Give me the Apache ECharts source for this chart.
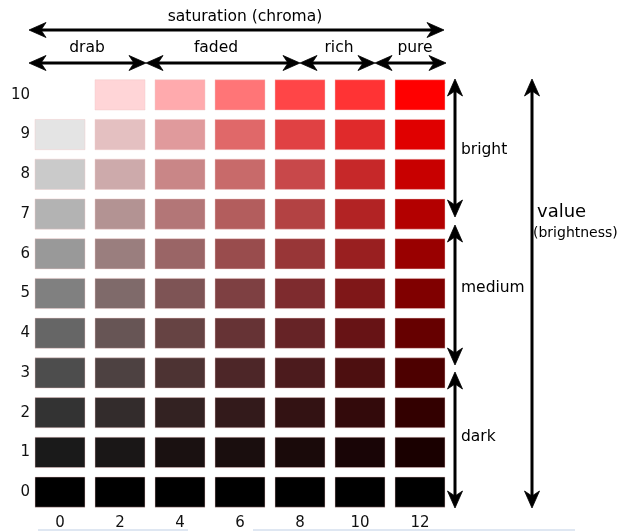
<!DOCTYPE html>
<html>
<head>
<meta charset="utf-8">
<script src="https://cdn.jsdelivr.net/npm/echarts@6/dist/echarts.min.js"></script>
<style>
html,body{margin:0;padding:0;background:#fff;}
#chart{width:632px;height:531px;}
</style>
</head>
<body>
<div id="chart"></div>
<script>
// Chroma (saturation) categories along x, Munsell value (brightness) along y
var chromaLabels = ['0', '2', '4', '6', '8', '10', '12'];
var valueLabels = ['0', '1', '2', '3', '4', '5', '6', '7', '8', '9', '10'];

// Colours of each cell, one array per value row, ordered by chroma (null = no swatch)
var value10 = [null, '#ffd5d7', '#ffaaad', '#ff7577', '#ff4547', '#ff3334', '#ff0000'];
var value9  = ['#e4e4e4', '#e4c0c1', '#e09a9c', '#e06869', '#e04143', '#e02a2b', '#e00000'];
var value8  = ['#cacaca', '#cdaaab', '#c98687', '#c86a6a', '#c8484a', '#c62829', '#c80000'];
var value7  = ['#b3b3b3', '#b39393', '#b37677', '#b35d5d', '#b34243', '#b22324', '#b30000'];
var value6  = ['#999999', '#9a7e7e', '#9a6566', '#994c4d', '#983637', '#991f20', '#990000'];
var value5  = ['#808080', '#7f6a6a', '#7e5455', '#7e4042', '#7e2b2e', '#7f1718', '#800000'];
var value4  = ['#666666', '#675555', '#664343', '#663335', '#662326', '#671315', '#660000'];
var value3  = ['#4d4d4d', '#4d4141', '#4d3333', '#4d2628', '#4c1b1d', '#4d0f10', '#4d0000'];
var value2  = ['#333333', '#332c2c', '#332222', '#331a1b', '#331213', '#330a0b', '#330000'];
var value1  = ['#1a1a1a', '#1a1717', '#1a1111', '#1a0e0e', '#1a0a0a', '#190506', '#1a0000'];
var value0  = ['#000000', '#000000', '#000000', '#000000', '#000000', '#000000', '#000000'];

var rows = [value0, value1, value2, value3, value4, value5, value6, value7, value8, value9, value10];

var cells = [];
rows.forEach(function (row, vi) {
  row.forEach(function (col, ci) {
    if (col) cells.push([ci, vi, col]);
  });
});

var FONT = 'DejaVu Sans';
var INK = '#000';

function arrowHead(tx, ty, dir) {
  // dir: 'l','r','u','d' - direction the arrow points
  var L = 17, W = 7.5, B = 12;
  var pts;
  if (dir === 'l') pts = [[tx, ty], [tx + L, ty - W], [tx + B, ty], [tx + L, ty + W]];
  if (dir === 'r') pts = [[tx, ty], [tx - L, ty - W], [tx - B, ty], [tx - L, ty + W]];
  if (dir === 'u') pts = [[tx, ty], [tx - W, ty + L], [tx, ty + B], [tx + W, ty + L]];
  if (dir === 'd') pts = [[tx, ty], [tx - W, ty - L], [tx, ty - B], [tx + W, ty - L]];
  return { type: 'polygon', shape: { points: pts }, style: { fill: INK, stroke: INK, lineWidth: 0.8 }, z: 100 };
}
function hArrow(x1, x2, y) {
  return [
    { type: 'line', shape: { x1: x1 + 8, y1: y, x2: x2 - 8, y2: y }, style: { stroke: INK, lineWidth: 3 }, z: 100 },
    arrowHead(x1, y, 'l'), arrowHead(x2, y, 'r')
  ];
}
function vArrow(x, y1, y2) {
  return [
    { type: 'line', shape: { x1: x, y1: y1 + 8, x2: x, y2: y2 - 8 }, style: { stroke: INK, lineWidth: 3 }, z: 100 },
    arrowHead(x, y1, 'u'), arrowHead(x, y2, 'd')
  ];
}
function label(text, x, y, size, align) {
  return {
    type: 'text', z: 100,
    style: { text: text, x: x, y: y, fill: '#000', fontSize: size, fontFamily: FONT,
             textAlign: align || 'center', textVerticalAlign: 'middle' }
  };
}

var graphics = [].concat(
  hArrow(29, 444, 30),
  hArrow(29, 146, 63), hArrow(146, 300, 63), hArrow(300, 375, 63), hArrow(375, 446, 63),
  vArrow(455, 79, 217), vArrow(455, 225, 365), vArrow(455, 372, 508),
  vArrow(532, 79, 508),
  [
    label('saturation (chroma)', 245, 17, 15.5),
    label('drab', 87, 48, 15.5),
    label('faded', 216, 48, 15.5),
    label('rich', 339, 48, 15.5),
    label('pure', 415, 48, 15.5),
    label('bright', 461, 150, 15.5, 'left'),
    label('medium', 461, 288, 15.5, 'left'),
    label('dark', 461, 437, 15.5, 'left'),
    label('value', 537, 212, 18, 'left'),
    label('(brightness)', 533, 233, 14, 'left'),
    { type: 'line', shape: { x1: 38, y1: 530, x2: 188, y2: 530 }, style: { stroke: '#dfe7f2', lineWidth: 2 } },
    { type: 'line', shape: { x1: 253, y1: 530, x2: 575, y2: 530 }, style: { stroke: '#dfe7f2', lineWidth: 2 } }
  ]
);

var chart = echarts.init(document.getElementById('chart'), null, { renderer: 'canvas' });
chart.setOption({
  animation: false,
  backgroundColor: '#fff',
  grid: { left: 30, top: 75, width: 420, bottom: 18 },
  xAxis: {
    type: 'category', data: chromaLabels,
    axisLine: { show: false }, axisTick: { show: false }, splitLine: { show: false },
    axisLabel: { color: '#111', fontSize: 15, fontFamily: FONT, margin: 4 }
  },
  yAxis: {
    type: 'category', data: valueLabels,
    axisLine: { show: false }, axisTick: { show: false }, splitLine: { show: false },
    axisLabel: { color: '#111', fontSize: 15, fontFamily: FONT, margin: 0 }
  },
  series: [{
    type: 'custom',
    data: cells,
    encode: { x: 0, y: 1 },
    renderItem: function (params, api) {
      var c = api.coord([api.value(0), api.value(1)]);
      var s = api.size([1, 1]);
      var w = s[0] - 10, h = s[1] - 9.5;
      return {
        type: 'rect',
        shape: { x: c[0] - w / 2, y: c[1] - h / 2, width: w, height: h },
        style: { fill: cells[params.dataIndex][2], stroke: 'rgba(240,200,200,0.45)', lineWidth: 1 }
      };
    }
  }],
  graphic: graphics
});
</script>
</body>
</html>
